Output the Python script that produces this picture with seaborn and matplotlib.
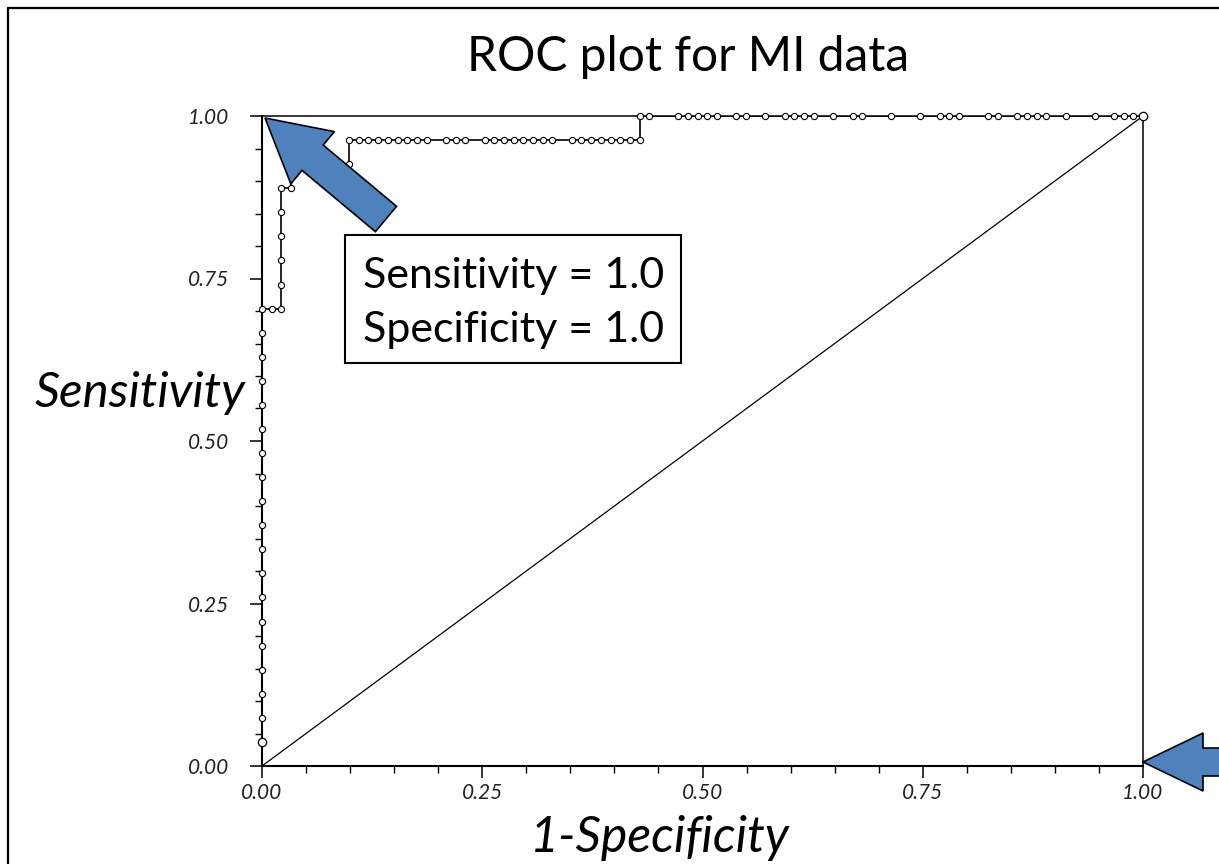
import matplotlib
matplotlib.use("Agg")
import matplotlib.pyplot as plt
import seaborn as sns
import pandas as pd
from matplotlib.patches import FancyArrow, Rectangle
from matplotlib.lines import Line2D
from matplotlib.ticker import MultipleLocator, FormatStrFormatter

# ---------------- data ----------------
N_NEG = 91   # number of non-MI cases (false positive denominator)
N_POS = 27   # number of MI cases (true positive denominator)

fp_counts = [0, 0, 0, 0, 0, 0, 0, 0, 0, 0, 0, 0, 0, 0, 0, 0, 0, 0, 0,
             1, 2, 2, 2, 2, 2, 2,
             3, 3,
             4, 5, 6, 7, 8, 9,
             9, 10, 11, 12, 13, 14, 15, 16, 17, 19, 20, 21, 23, 24, 25, 26, 27, 28,
             29, 30, 32, 33, 34, 35, 36, 37, 38, 39,
             39, 40, 43, 44, 45, 46, 47, 49, 50, 52, 54, 55, 56, 57, 59, 61, 62, 65,
             68, 70, 71, 72, 75, 76, 78, 79, 80, 81, 83, 86, 88, 89, 90, 91]
tp_counts = [1, 2, 3, 4, 5, 6, 7, 8, 9, 10, 11, 12, 13, 14, 15, 16, 17, 18, 19,
             19, 19, 20, 21, 22, 23, 24,
             24, 25,
             25, 25, 25, 25, 25, 25,
             26, 26, 26, 26, 26, 26, 26, 26, 26, 26, 26, 26, 26, 26, 26, 26, 26, 26,
             26, 26, 26, 26, 26, 26, 26, 26, 26, 26,
             27, 27, 27, 27, 27, 27, 27, 27, 27, 27, 27, 27, 27, 27, 27, 27, 27, 27,
             27, 27, 27, 27, 27, 27, 27, 27, 27, 27, 27, 27, 27, 27, 27, 27]

diag_x = [0.0, 1.0]
diag_y = [0.0, 1.0]

title_text = "ROC plot for MI data"
xlabel_text = "1-Specificity"
ylabel_text = "Sensitivity"
box_lines = ["Sensitivity = 1.0", "Specificity = 1.0"]

df = pd.DataFrame({"fpr": [c / N_NEG for c in fp_counts],
                   "tpr": [c / N_POS for c in tp_counts]})
ends = df.iloc[[0, len(df) - 1]]

# ---------------- figure ----------------
sns.set_theme(style="white")
plt.rcParams["font.family"] = ["Lato", "DejaVu Sans"]

W, H = 1219, 864
fig = plt.figure(figsize=(W / 100, H / 100), dpi=100)
fig.patch.set_facecolor("white")


def fx(px):
    return px / W


def fy(py):
    return 1 - py / H


ax = fig.add_axes([fx(262), fy(766), (1143 - 262) / W, (766 - 116) / H])
ax.set_xlim(0, 1)
ax.set_ylim(0, 1)

sns.lineplot(x=diag_x, y=diag_y, ax=ax, color="black", linewidth=0.9)
sns.lineplot(data=df, x="fpr", y="tpr", ax=ax, sort=False, estimator=None,
             color="black", linewidth=1.2, zorder=3)
sns.scatterplot(data=df, x="fpr", y="tpr", ax=ax, marker="o", s=20,
                facecolor="white", edgecolor="black", linewidth=0.8,
                zorder=4, clip_on=False)
sns.scatterplot(data=ends, x="fpr", y="tpr", ax=ax, marker="o", s=36,
                facecolor="white", edgecolor="black", linewidth=0.9,
                zorder=5, clip_on=False)

ax.set_xlabel("")
ax.set_ylabel("")
ax.xaxis.set_major_locator(MultipleLocator(0.25))
ax.yaxis.set_major_locator(MultipleLocator(0.25))
ax.xaxis.set_minor_locator(MultipleLocator(0.05))
ax.yaxis.set_minor_locator(MultipleLocator(0.05))
ax.xaxis.set_major_formatter(FormatStrFormatter("%.2f"))
ax.yaxis.set_major_formatter(FormatStrFormatter("%.2f"))
ax.tick_params(which="major", direction="out", length=8.6, width=1.1,
               color="black", bottom=True, left=True, top=False, right=False)
ax.tick_params(which="minor", direction="out", length=5, width=1.0,
               color="black", bottom=True, left=True, top=False, right=False)
ax.tick_params(axis="x", which="major", pad=3.5)
ax.tick_params(axis="y", which="major", pad=15)
for lab in ax.get_xticklabels() + ax.get_yticklabels():
    lab.set_fontstyle("italic")
    lab.set_fontsize(15)
    lab.set_color("#222222")

for side in ["left", "bottom"]:
    ax.spines[side].set_linewidth(1.5)
    ax.spines[side].set_color("black")
for side in ["top", "right"]:
    ax.spines[side].set_linewidth(1.1)
    ax.spines[side].set_color("black")
ax.set_facecolor("none")

# texts
fig.text(fx(688), fy(57), title_text, ha="center", va="center",
         fontsize=34.5, color="black")
fig.text(fx(35), fy(393), ylabel_text, ha="left", va="center",
         fontsize=35.5, fontstyle="italic", color="black")
fig.text(fx(660), fy(838), xlabel_text, ha="center", va="center",
         fontsize=36, fontstyle="italic", color="black")

# annotation box
fig.add_artist(Rectangle((fx(345), fy(363)), fx(681) - fx(345), fy(235) - fy(363),
                         transform=fig.transFigure, facecolor="white",
                         edgecolor="black", linewidth=1.5, zorder=6))
fig.text(fx(363), fy(276), box_lines[0], ha="left", va="center",
         fontsize=31, color="black", zorder=7)
fig.text(fx(363), fy(330), box_lines[1], ha="left", va="center",
         fontsize=31, color="black", zorder=7)

# block arrows (in inches, isotropic)
blue = "#4F81BD"
tail1 = (386 / 100, (H - 219) / 100)
tip1 = (265 / 100, (H - 118) / 100)
fig.add_artist(FancyArrow(tail1[0], tail1[1], tip1[0] - tail1[0], tip1[1] - tail1[1],
                          width=0.33, head_width=0.68, head_length=0.62,
                          length_includes_head=True, transform=fig.dpi_scale_trans,
                          facecolor=blue, edgecolor="black", linewidth=1.2, zorder=8))
tail2 = (1290 / 100, (H - 762) / 100)
tip2 = (1143 / 100, (H - 762) / 100)
fig.add_artist(FancyArrow(tail2[0], tail2[1], tip2[0] - tail2[0], 0,
                          width=0.28, head_width=0.58, head_length=0.6,
                          length_includes_head=True, transform=fig.dpi_scale_trans,
                          facecolor=blue, edgecolor="black", linewidth=1.2, zorder=8))

# slide frame lines
fig.add_artist(Line2D([fx(8), fx(8)], [fy(8), 0], transform=fig.transFigure,
                      color="black", linewidth=1.6))
fig.add_artist(Line2D([fx(8), 1], [fy(8), fy(8)], transform=fig.transFigure,
                      color="black", linewidth=1.6))

fig.savefig("out.png", dpi=100, facecolor="white")
